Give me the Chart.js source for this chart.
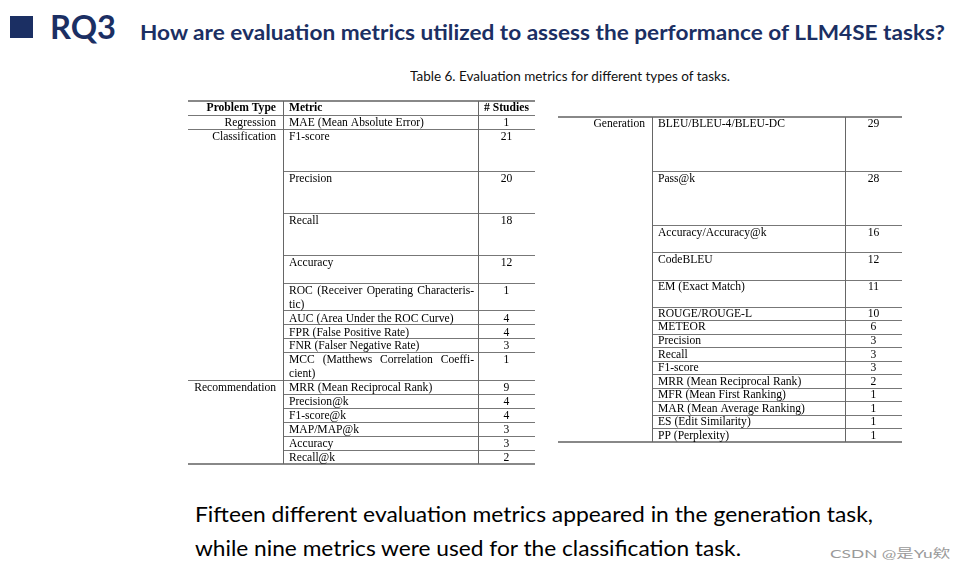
<!DOCTYPE html>
<html>
<head>
<meta charset="utf-8">
<script src="https://cdn.jsdelivr.net/npm/chart.js@4.4.1/dist/chart.umd.min.js"></script>
<style>
html,body{margin:0;padding:0;background:#fff;width:966px;height:572px;overflow:hidden;position:relative}
.t{position:absolute;white-space:nowrap;transform-origin:0 0;}
canvas{position:absolute}
</style>
</head>
<body>
<div style="position:absolute;left:10px;top:16px;width:23px;height:22px;background:#1B2F63"></div>
<div class="t" id="rq"></div>
<div class="t" id="q"></div>
<div class="t" id="cap"></div>
<div class="t" id="b1"></div>
<div class="t" id="b2"></div>
<div class="t" id="wm"></div>
<canvas id="left" width="363" height="379" style="left:180px;top:93px;width:363px;height:379px"></canvas>
<canvas id="right" width="360" height="341" style="left:550px;top:109px;width:360px;height:341px"></canvas>
<script>
// ---------- data ----------
const leftHeader = ['Problem Type', 'Metric', '# Studies'];
const leftGroups = ['Regression', 'Classification', '', '', '', '', '', '', '', '', 'Recommendation', '', '', '', '', ''];
const leftMetrics = [
  'MAE (Mean Absolute Error)',
  'F1-score',
  'Precision',
  'Recall',
  'Accuracy',
  'ROC (Receiver Operating Characteris-\ntic)',
  'AUC (Area Under the ROC Curve)',
  'FPR (False Positive Rate)',
  'FNR (Falser Negative Rate)',
  'MCC (Matthews Correlation Coeffi-\ncient)',
  'MRR (Mean Reciprocal Rank)',
  'Precision@k',
  'F1-score@k',
  'MAP/MAP@k',
  'Accuracy',
  'Recall@k'
];
const leftStudies = [1, 21, 20, 18, 12, 1, 4, 4, 3, 1, 9, 4, 4, 3, 3, 2];

const rightGroups = ['Generation', '', '', '', '', '', '', '', '', '', '', '', '', '', ''];
const rightMetrics = [
  'BLEU/BLEU-4/BLEU-DC',
  'Pass@k',
  'Accuracy/Accuracy@k',
  'CodeBLEU',
  'EM (Exact Match)',
  'ROUGE/ROUGE-L',
  'METEOR',
  'Precision',
  'Recall',
  'F1-score',
  'MRR (Mean Reciprocal Rank)',
  'MFR (Mean First Ranking)',
  'MAR (Mean Average Ranking)',
  'ES (Edit Similarity)',
  'PP (Perplexity)'
];
const rightStudies = [29, 28, 16, 12, 11, 10, 6, 3, 3, 3, 2, 1, 1, 1, 1];

// ---------- layout (row heights in text lines, column edges in px) ----------
const leftRowLines = [1, 3, 3, 3, 2, 2, 1, 1, 1, 2, 1, 1, 1, 1, 1, 1];
const rightRowLines = [4, 4, 2, 2, 2, 1, 1, 1, 1, 1, 1, 1, 1, 1, 1];

// ---------- text blocks ----------
const NAVY = '#1B2F63';
function place(id, text, o) {
  const el = document.getElementById(id);
  el.textContent = text;
  el.style.fontFamily = o.family;
  el.style.fontWeight = o.weight || 'normal';
  el.style.fontSize = o.size + 'px';
  el.style.lineHeight = (o.size * 1.2) + 'px';
  el.style.color = o.color;
  el.style.left = o.left + 'px';
  el.style.top = (o.baseline - 0.987 * o.size) + 'px';
  const w = el.getBoundingClientRect().width;
  if (o.width && w > 0) el.style.transform = 'scaleX(' + (o.width / w) + ')';
}
const SANS = 'Lato, "Noto Sans CJK SC", sans-serif';
place('rq', 'RQ3', {family: SANS, weight: 'bold', size: 32, color: NAVY, left: 50, baseline: 40, width: 66});
place('q', 'How are evaluation metrics utilized to assess the performance of LLM4SE tasks?', {family: SANS, weight: 'bold', size: 21, color: NAVY, left: 140, baseline: 40, width: 805});
place('cap', 'Table 6. Evaluation metrics for different types of tasks.', {family: SANS, size: 13, color: '#111', left: 410, baseline: 82, width: 320});
place('b1', 'Fifteen different evaluation metrics appeared in the generation task,', {family: SANS, size: 22, color: '#000', left: 195, baseline: 523, width: 678});
place('b2', 'while nine metrics were used for the classification task.', {family: SANS, size: 22, color: '#000', left: 195, baseline: 557, width: 546});
place('wm', 'CSDN @是Yu欸', {family: SANS, size: 12, color: '#9a9a9a', left: 830, baseline: 559, width: 120});

// ---------- tables via Chart.js ----------
function makeTable(canvasId, cfg) {
  const hdr = cfg.header ? 1 : 0;
  const starts = [];
  let acc = hdr;
  cfg.spans.forEach(s => { starts.push(acc); acc += s; });
  const total = acc;
  const E = cfg.edges;
  const valX = (E[2] + E[3]) / 2;
  const points = cfg.studies.map((v, i) => ({x: valX, y: starts[i] + cfg.textOffset}));
  const FONT = '11.6px "Liberation Serif", "DejaVu Serif", serif';
  const BFONT = 'bold 11.6px "Liberation Serif", "DejaVu Serif", serif';

  const plugin = {
    id: 'tableDraw',
    afterDatasetsDraw(chart) {
      const ctx = chart.ctx;
      const xs = chart.scales.x, ys = chart.scales.y;
      const X = v => xs.getPixelForValue(v);
      const Y = v => ys.getPixelForValue(v);
      ctx.save();
      function hline(x0, x1, yv, lw, col) {
        ctx.strokeStyle = col; ctx.lineWidth = lw;
        const yy = lw === 1 ? Math.round(Y(yv)) + 0.5 : Math.round(Y(yv));
        ctx.beginPath(); ctx.moveTo(X(x0), yy); ctx.lineTo(X(x1), yy); ctx.stroke();
      }
      function vline(xv, y0, y1) {
        ctx.strokeStyle = '#666'; ctx.lineWidth = 1;
        const xx = Math.round(X(xv)) + 0.5;
        ctx.beginPath(); ctx.moveTo(xx, Y(y0)); ctx.lineTo(xx, Y(y1)); ctx.stroke();
      }
      // rules
      hline(E[0], E[3], 0, 2, '#888');
      hline(E[0], E[3], total, 2, '#888');
      if (hdr) hline(E[0], E[3], 1, 1, '#777');
      for (let i = 0; i < cfg.spans.length - 1; i++) {
        const b = starts[i] + cfg.spans[i];
        const full = cfg.groups[i + 1] !== '';
        hline(full ? E[0] : E[1], E[3], b, 1, '#777');
      }
      vline(E[1], 0, total);
      vline(E[2], 0, total);
      // header
      ctx.fillStyle = '#000';
      ctx.textBaseline = 'middle';
      if (hdr) {
        ctx.font = BFONT;
        const hy = Y(0.5);
        ctx.textAlign = 'right'; ctx.fillText(cfg.header[0], X(E[1]) - 7, hy);
        ctx.textAlign = 'left'; ctx.fillText(cfg.header[1], X(E[1]) + 6, hy);
        ctx.textAlign = 'center'; ctx.fillText(cfg.header[2], X(valX), hy);
      }
      ctx.font = FONT;
      const meta = chart.getDatasetMeta(0);
      const rightLimit = X(E[2]) - 4;
      cfg.metrics.forEach((m, i) => {
        const yFirst = Y(starts[i] + cfg.textOffset);
        if (cfg.groups[i]) {
          ctx.textAlign = 'right';
          ctx.fillText(cfg.groups[i], X(E[1]) - 7, yFirst);
        }
        const lines = m.split('\n');
        const x0 = X(E[1]) + 6;
        lines.forEach((ln, k) => {
          const yy = Y(starts[i] + cfg.textOffset + k);
          ctx.textAlign = 'left';
          if (k < lines.length - 1) {
            const words = ln.split(' ');
            const wsum = words.reduce((a, w) => a + ctx.measureText(w).width, 0);
            const gap = (rightLimit - x0 - wsum) / (words.length - 1);
            let cx = x0;
            words.forEach(w => { ctx.fillText(w, cx, yy); cx += ctx.measureText(w).width + gap; });
          } else {
            ctx.fillText(ln, x0, yy);
          }
        });
        const el = meta.data[i];
        ctx.textAlign = 'center';
        ctx.fillText(String(cfg.studies[i]), el.x, el.y);
      });
      ctx.restore();
    }
  };

  new Chart(document.getElementById(canvasId), {
    type: 'scatter',
    data: {datasets: [{data: points, pointRadius: 0, pointHoverRadius: 0, borderWidth: 0}]},
    options: {
      responsive: false,
      animation: false,
      devicePixelRatio: 1,
      events: [],
      layout: {padding: 8},
      plugins: {legend: {display: false}, tooltip: {enabled: false}, title: {display: false}},
      scales: {
        x: {type: 'linear', display: false, min: 0, max: E[3]},
        y: {type: 'linear', display: false, min: 0, max: total, reverse: true}
      }
    },
    plugins: [plugin]
  });
}

makeTable('left', {
  header: leftHeader, groups: leftGroups, metrics: leftMetrics, studies: leftStudies,
  spans: leftRowLines, edges: [0, 95, 290, 347], textOffset: 0.58
});
makeTable('right', {
  header: null, groups: rightGroups, metrics: rightMetrics, studies: rightStudies,
  spans: rightRowLines, edges: [0, 94, 287, 344], textOffset: 0.54
});
</script>
</body>
</html>
